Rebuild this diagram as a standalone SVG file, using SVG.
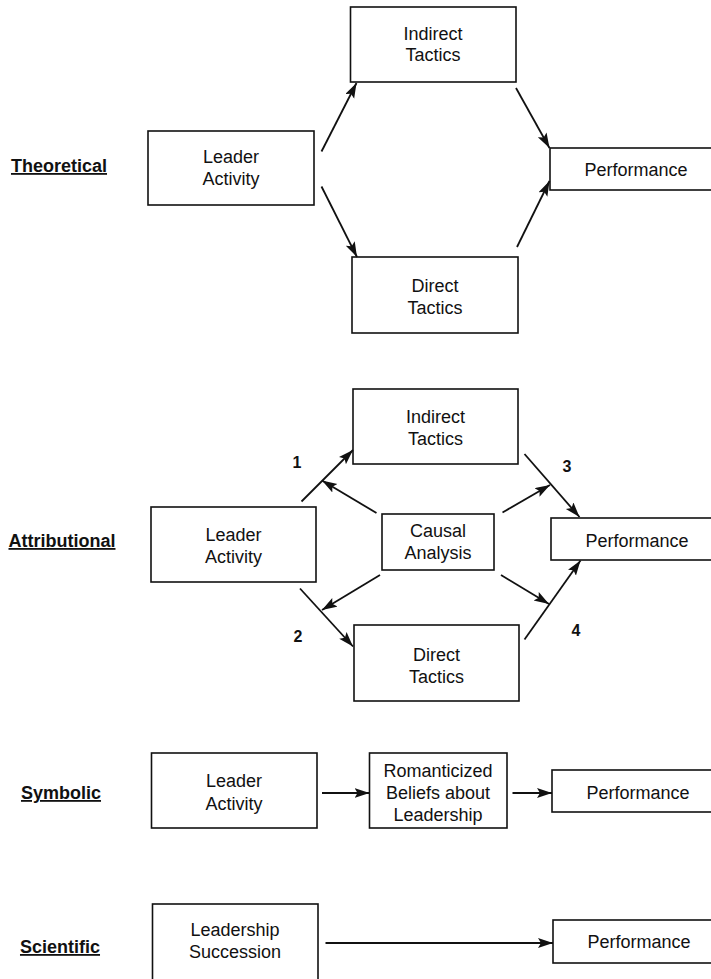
<svg xmlns="http://www.w3.org/2000/svg" width="711" height="979" viewBox="0 0 711 979">
  <style>
    .box { fill: #fff; stroke: #111; stroke-width: 1.6; }
    .t { font-family: "Liberation Sans", Arial, Helvetica, sans-serif; font-size: 18px; fill: #111; text-anchor: middle; }
    .lbl { font-family: "Liberation Sans", Arial, Helvetica, sans-serif; font-size: 18px; font-weight: bold; fill: #111; text-anchor: middle; text-decoration: underline; }
    .num { font-family: "Liberation Sans", Arial, Helvetica, sans-serif; font-size: 16px; font-weight: bold; fill: #111; text-anchor: middle; }
    .arr { fill: none; stroke: #111; stroke-width: 1.8; marker-end: url(#head); }
  </style>
  <defs>
    <marker id="head" markerUnits="userSpaceOnUse" markerWidth="16" markerHeight="12" refX="15" refY="5" orient="auto">
      <path d="M0,0 L15,5 L0,10 L3,5 z" fill="#111"/>
    </marker>
  </defs>

  <!-- Theoretical model -->
  <g id="theoretical">
    <text class="lbl" x="59" y="172">Theoretical</text>
    <g id="th-leader">
      <rect class="box" x="148" y="131" width="166" height="74"/>
      <text class="t" x="231" y="162.5">Leader</text>
      <text class="t" x="231" y="185">Activity</text>
    </g>
    <g id="th-indirect">
      <rect class="box" x="350.5" y="7" width="165.5" height="75"/>
      <text class="t" x="433" y="39.5">Indirect</text>
      <text class="t" x="433" y="61">Tactics</text>
    </g>
    <g id="th-performance">
      <rect class="box" x="550" y="148" width="170" height="42"/>
      <text class="t" x="636" y="176">Performance</text>
    </g>
    <g id="th-direct">
      <rect class="box" x="352" y="257" width="166" height="76"/>
      <text class="t" x="435" y="292">Direct</text>
      <text class="t" x="435" y="313.5">Tactics</text>
    </g>
    <g id="th-connectors">
      <line class="arr" x1="321.5" y1="151.5" x2="356.5" y2="83"/>
      <line class="arr" x1="321.5" y1="186.5" x2="357" y2="257"/>
      <line class="arr" x1="516" y1="88" x2="549.5" y2="148"/>
      <line class="arr" x1="517" y1="247" x2="549.5" y2="181"/>
    </g>
  </g>

  <!-- Attributional model -->
  <g id="attributional">
    <text class="lbl" x="62" y="547">Attributional</text>
    <g id="at-indirect">
      <rect class="box" x="353" y="389" width="165" height="75"/>
      <text class="t" x="435.5" y="423">Indirect</text>
      <text class="t" x="435.5" y="444.5">Tactics</text>
    </g>
    <g id="at-leader">
      <rect class="box" x="151" y="507" width="165" height="75"/>
      <text class="t" x="233.5" y="541">Leader</text>
      <text class="t" x="233.5" y="563">Activity</text>
    </g>
    <g id="at-causal">
      <rect class="box" x="382" y="514" width="112" height="56"/>
      <text class="t" x="438" y="537">Causal</text>
      <text class="t" x="438" y="558.5">Analysis</text>
    </g>
    <g id="at-performance">
      <rect class="box" x="551" y="518" width="170" height="42"/>
      <text class="t" x="637" y="547">Performance</text>
    </g>
    <g id="at-direct">
      <rect class="box" x="354" y="625" width="165" height="76"/>
      <text class="t" x="436.5" y="661">Direct</text>
      <text class="t" x="436.5" y="683">Tactics</text>
    </g>
    <g id="at-connectors">
      <line class="arr" x1="301.5" y1="501.5" x2="353" y2="450"/>
      <line class="arr" x1="376.5" y1="513" x2="322" y2="480.5"/>
      <line class="arr" x1="300" y1="588.5" x2="353" y2="646.5"/>
      <line class="arr" x1="380" y1="575" x2="322" y2="610"/>
      <line class="arr" x1="524.5" y1="454" x2="579.5" y2="517"/>
      <line class="arr" x1="502.5" y1="512.5" x2="550" y2="485"/>
      <line class="arr" x1="501" y1="575" x2="549" y2="604"/>
      <line class="arr" x1="524.5" y1="639.5" x2="580.5" y2="560.5"/>
    </g>
    <text class="num" x="297" y="468">1</text>
    <text class="num" x="567" y="472">3</text>
    <text class="num" x="298" y="642">2</text>
    <text class="num" x="576" y="636">4</text>
  </g>

  <!-- Symbolic model -->
  <g id="symbolic">
    <text class="lbl" x="61" y="799">Symbolic</text>
    <g id="sy-leader">
      <rect class="box" x="151.5" y="753" width="165.5" height="75"/>
      <text class="t" x="234" y="787">Leader</text>
      <text class="t" x="234" y="809.5">Activity</text>
    </g>
    <g id="sy-beliefs">
      <rect class="box" x="369.5" y="753" width="137.5" height="75"/>
      <text class="t" x="438" y="777">Romanticized</text>
      <text class="t" x="438" y="799">Beliefs about</text>
      <text class="t" x="438" y="821">Leadership</text>
    </g>
    <g id="sy-performance">
      <rect class="box" x="552" y="770" width="170" height="42"/>
      <text class="t" x="638" y="798.5">Performance</text>
    </g>
    <g id="sy-connectors">
      <line class="arr" x1="322" y1="793" x2="369.5" y2="793"/>
      <line class="arr" x1="512.5" y1="793" x2="552" y2="793"/>
    </g>
  </g>

  <!-- Scientific model -->
  <g id="scientific">
    <text class="lbl" x="60" y="953">Scientific</text>
    <g id="sc-succession">
      <rect class="box" x="152.5" y="904" width="165.5" height="100"/>
      <text class="t" x="235" y="935.5">Leadership</text>
      <text class="t" x="235" y="958">Succession</text>
    </g>
    <g id="sc-performance">
      <rect class="box" x="553" y="920" width="170" height="43"/>
      <text class="t" x="639" y="948">Performance</text>
    </g>
    <g id="sc-connectors">
      <line class="arr" x1="325.5" y1="943" x2="553" y2="943"/>
    </g>
  </g>
</svg>
